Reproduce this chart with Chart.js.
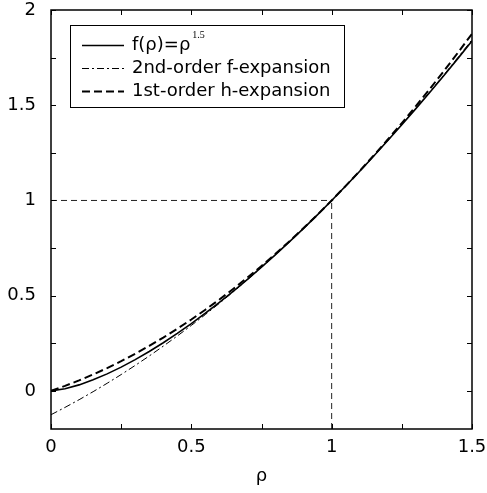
<!DOCTYPE html>
<html lang="en">
<head>
  <meta charset="UTF-8">
  <title>f(rho) expansions</title>
  <script src="https://cdn.jsdelivr.net/npm/chart.js"></script>
  <style>
    body { margin: 0; background: #fff; }
    #plot { display: block; }
  </style>
</head>
<body>
  <canvas id="plot" width="487" height="493"></canvas>
  <script>
    // values
    const rho = [0, 0.05, 0.1, 0.15, 0.2, 0.25, 0.3, 0.35, 0.4, 0.45, 0.5, 0.55, 0.6, 0.65, 0.7, 0.75,
                 0.8, 0.85, 0.9, 0.95, 1.0, 1.05, 1.1, 1.15, 1.2, 1.25, 1.3, 1.35, 1.4, 1.45, 1.5];
    const fVals = [0, 0.0112, 0.0316, 0.0581, 0.0894, 0.125, 0.1643, 0.2071, 0.2530, 0.3019, 0.3536,
                   0.4079, 0.4648, 0.5241, 0.5857, 0.6495, 0.7155, 0.7837, 0.8538, 0.9259, 1.0,
                   1.0759, 1.1537, 1.2332, 1.3145, 1.3975, 1.4822, 1.5686, 1.6565, 1.7460, 1.8371];
    const gVals = [-0.125, -0.0866, -0.0463, -0.0041, 0.04, 0.0859, 0.1338, 0.1834, 0.235, 0.2884, 0.3438,
                   0.4009, 0.46, 0.5209, 0.5838, 0.6484, 0.715, 0.7834, 0.8538, 0.9259, 1.0,
                   1.0759, 1.1538, 1.2334, 1.315, 1.3984, 1.4838, 1.5709, 1.66, 1.7509, 1.8438];
    const hVals = [0, 0.0263, 0.055, 0.0863, 0.12, 0.1563, 0.195, 0.2363, 0.28, 0.3263, 0.375,
                   0.4263, 0.48, 0.5363, 0.595, 0.6563, 0.72, 0.7863, 0.855, 0.9263, 1.0,
                   1.0763, 1.155, 1.2363, 1.32, 1.4063, 1.495, 1.5863, 1.68, 1.7763, 1.875];

    // dashed guide lines to the point (1, 1)
    const guideHX = [0, 1];
    const guideHY = [1, 1];
    const guideVX = [1, 1];
    const guideVY = [-0.2, 1];

    const xTicks = [0, 0.25, 0.5, 0.75, 1, 1.25, 1.5];
    const xLabels = ['0', '', '0.5', '', '1', '', '1.5'];
    const yTicks = [0, 0.25, 0.5, 0.75, 1, 1.25, 1.5, 1.75, 2];
    const yLabels = ['0', '', '0.5', '', '1', '', '1.5', '', '2'];

    const legendLabels = ['f(\u03c1)=\u03c1', '2nd-order f-expansion', '1st-order h-expansion'];
    const legendSup = '1.5';

    const FONT = '"DejaVu Sans", "Liberation Sans", sans-serif';

    function pts(xs, ys) {
      return xs.map((x, i) => ({ x: x, y: ys[i] }));
    }

    // inward ticks on all four sides + frame
    const frame = {
      id: 'frame',
      afterDraw(chart) {
        const ctx = chart.ctx;
        const a = chart.chartArea;
        const xs = chart.scales.x, ys = chart.scales.y;
        ctx.save();
        ctx.strokeStyle = '#000';
        ctx.lineWidth = 1;
        ctx.beginPath();
        xTicks.forEach(v => {
          const px = Math.round(xs.getPixelForValue(v)) + 0.5;
          ctx.moveTo(px, a.bottom); ctx.lineTo(px, a.bottom - 5);
          ctx.moveTo(px, a.top); ctx.lineTo(px, a.top + 5);
        });
        yTicks.forEach(v => {
          const py = Math.round(ys.getPixelForValue(v)) + 0.5;
          ctx.moveTo(a.left, py); ctx.lineTo(a.left + 5, py);
          ctx.moveTo(a.right, py); ctx.lineTo(a.right - 5, py);
        });
        ctx.stroke();
        ctx.lineWidth = 1.5;
        ctx.strokeRect(a.left, a.top, a.right - a.left, a.bottom - a.top);
        ctx.restore();
      }
    };

    // legend box in the upper left
    const legendBox = {
      id: 'legendBox',
      afterDraw(chart) {
        const ctx = chart.ctx;
        const ds = chart.data.datasets;
        ctx.save();
        ctx.fillStyle = '#fff';
        ctx.fillRect(70, 25, 274, 82);
        ctx.strokeStyle = '#000';
        ctx.lineWidth = 1;
        ctx.strokeRect(70.5, 25.5, 274, 82);
        const rows = [45, 68, 91];
        ctx.textBaseline = 'middle';
        ctx.fillStyle = '#000';
        for (let i = 0; i < 3; i++) {
          const d = ds[i];
          ctx.beginPath();
          ctx.setLineDash(d.borderDash || []);
          ctx.lineWidth = d.borderWidth;
          ctx.moveTo(82, rows[i] + 0.5);
          ctx.lineTo(124, rows[i] + 0.5);
          ctx.stroke();
          ctx.setLineDash([]);
          ctx.font = '18px ' + FONT;
          ctx.fillText(legendLabels[i], 132, rows[i]);
          if (i === 0) {
            const w = ctx.measureText(legendLabels[i]).width;
            ctx.font = '10px "Liberation Serif", serif';
            ctx.fillText(legendSup, 132 + w + 2, rows[i] - 10);
          }
        }
        ctx.restore();
      }
    };

    new Chart(document.getElementById('plot'), {
      type: 'line',
      data: {
        datasets: [
          { label: legendLabels[0], data: pts(rho, fVals), borderColor: '#000', borderWidth: 1.6 },
          { label: legendLabels[1], data: pts(rho, gVals), borderColor: '#000', borderWidth: 1, borderDash: [7, 3, 2, 3] },
          { label: legendLabels[2], data: pts(rho, hVals), borderColor: '#000', borderWidth: 2, borderDash: [8, 4] },
          { label: 'guideH', data: pts(guideHX, guideHY), borderColor: '#222', borderWidth: 1, borderDash: [6, 4] },
          { label: 'guideV', data: pts(guideVX, guideVY), borderColor: '#222', borderWidth: 1, borderDash: [6, 4] }
        ]
      },
      options: {
        responsive: false,
        animation: false,
        parsing: false,
        elements: { point: { radius: 0 }, line: { tension: 0, fill: false } },
        layout: { padding: { top: 10, right: 15, left: 0, bottom: 0 } },
        plugins: { legend: { display: false }, tooltip: { enabled: false } },
        scales: {
          x: {
            type: 'linear',
            min: 0, max: 1.5,
            grid: { display: false, drawTicks: false },
            border: { display: false },
            afterBuildTicks: s => { s.ticks = xTicks.map(v => ({ value: v })); },
            afterFit: s => { s.height = 64; s.paddingLeft = 0; s.paddingRight = 0; },
            ticks: {
              autoSkip: false, maxRotation: 0, padding: 8, color: '#000',
              font: { family: FONT, size: 18 },
              callback: (v, i) => xLabels[i]
            },
            title: {
              display: true, text: '\u03c1', color: '#000',
              font: { family: FONT, size: 18 },
              padding: { top: 0, bottom: 6 }
            }
          },
          y: {
            type: 'linear',
            min: -0.2, max: 2,
            grid: { display: false, drawTicks: false },
            border: { display: false },
            afterBuildTicks: s => { s.ticks = yTicks.map(v => ({ value: v })); },
            afterFit: s => { s.width = 51; s.paddingTop = 0; s.paddingBottom = 0; },
            ticks: {
              autoSkip: false, padding: 15, color: '#000',
              font: { family: FONT, size: 18 },
              callback: (v, i) => yLabels[i]
            }
          }
        }
      },
      plugins: [frame, legendBox]
    });
  </script>
</body>
</html>
